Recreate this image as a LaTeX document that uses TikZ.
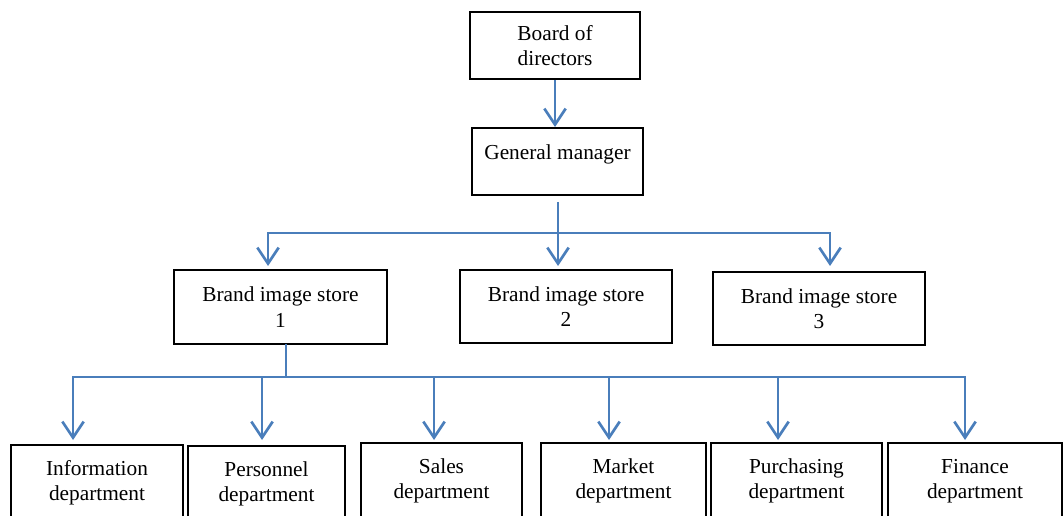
\documentclass[tikz,border=0pt]{standalone}
\usepackage{fontspec}
\setmainfont{Liberation Serif}
\usetikzlibrary{arrows.meta}
\definecolor{linkblue}{RGB}{74,126,187}
\tikzset{
  unit/.style={draw=black, line width=1.5pt, align=center, inner sep=0pt,
    font=\fontsize{16}{19}\selectfont},
  link/.style={draw=linkblue, line width=2pt},
  linkarrow/.style={link, -{Straight Barb[length=12pt,width=16pt]}}
}
\begin{document}
\begin{tikzpicture}[x=0.75pt,y=-0.75pt]
\useasboundingbox (0,0) rectangle (1063,516);
\clip (0,0) rectangle (1063,516);

% top of the chart
\node[unit, minimum width=127.5pt, minimum height=50.25pt] (board) at (555,45.5) {Board of\\directors};
\node[unit, minimum width=128.25pt, minimum height=50.25pt, text depth=14pt] (gm) at (557.5,161.5) {General manager};

% stores
\node[unit, minimum width=159.75pt, minimum height=55.5pt] (store1) at (280.5,307) {Brand image store\\1};
\node[unit, minimum width=159pt, minimum height=54.75pt] (store2) at (566,306.5) {Brand image store\\2};
\node[unit, minimum width=159pt, minimum height=54.75pt] (store3) at (819,308.5) {Brand image store\\3};

% departments
\node[unit, minimum width=129pt, minimum height=57pt] (info) at (97,483) {Information\\department};
\node[unit, minimum width=117.75pt, minimum height=57pt] (pers) at (266.5,484) {Personnel\\department};
\node[unit, minimum width=120.75pt, minimum height=57pt] (sales) at (441.5,481) {Sales\\department};
\node[unit, minimum width=123.75pt, minimum height=57pt] (market) at (623.5,481) {Market\\department};
\node[unit, minimum width=128.25pt, minimum height=57pt] (purch) at (796.5,481) {Purchasing\\department};
\node[unit, minimum width=130.5pt, minimum height=57pt] (fin) at (975,481) {Finance\\department};

% connectors
\draw[linkarrow] (board.south) -- (board.south |- gm.north);

\coordinate (gmout) at (558,202);
\coordinate (busA) at (558,233);
\coordinate (tipA1) at (268,266);
\coordinate (tipA2) at (558,266);
\coordinate (tipA3) at (830,266);
\draw[linkarrow] (gmout) -- (tipA2);
\draw[linkarrow] (busA) -| (tipA1);
\draw[linkarrow] (busA) -| (tipA3);

\coordinate (s1out) at (286,344);
\coordinate (busB) at (286,377);
\draw[link] (s1out) -- (busB);
\foreach \x/\n in {73/info,262/pers,434/sales,609/market,778/purch,965/fin}{
  \coordinate (tip\n) at (\x,440);
  \draw[linkarrow] (busB) -| (tip\n);
}
\end{tikzpicture}
\end{document}
